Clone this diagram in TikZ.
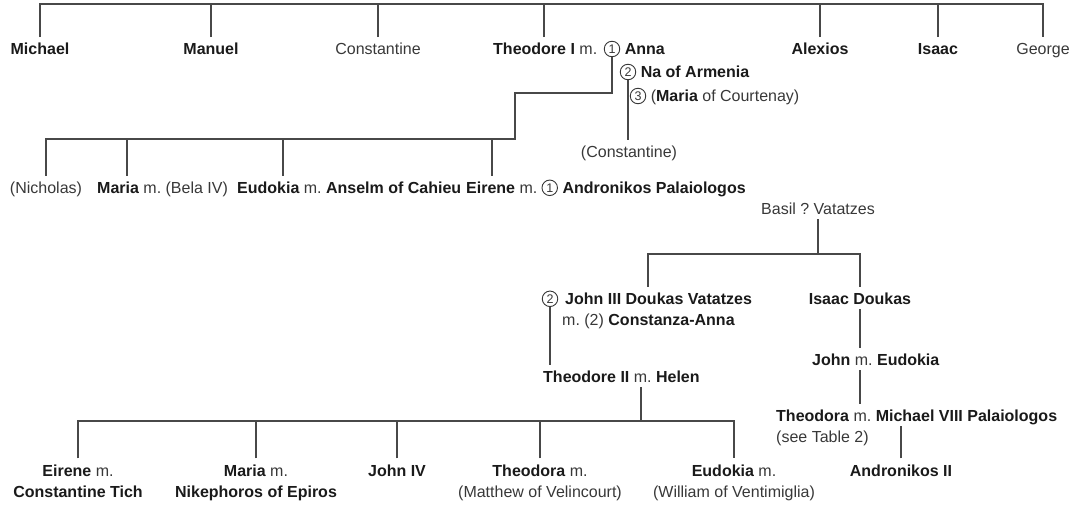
\documentclass[tikz,border=0pt]{standalone}
\usepackage{fontspec}
\setmainfont{Liberation Sans}
\usetikzlibrary{calc}
\definecolor{txt}{HTML}{383838}
\definecolor{bld}{HTML}{1A1A1A}
\definecolor{ln}{HTML}{484848}
\newcommand\bn[1]{{\bfseries\color{bld}#1}}
\frenchspacing
\begin{document}
\frenchspacing
\begin{tikzpicture}[x=1pt,y=-1pt,
  lbl/.style={inner sep=0pt, text height=17.5pt, text depth=4.5pt,
    font=\fontsize{16}{19}\selectfont\frenchspacing, text=txt},
  cnum/.style={circle, draw=txt, line width=0.9pt, minimum size=15.5pt,
    inner sep=0pt, font=\fontsize{12.5}{12.5}\selectfont, text=txt},
  conn/.style={draw=ln, line width=1.2pt}]
\useasboundingbox (0,0) rectangle (1084,506);
\coordinate (tb) at (0,4);
\coordinate (b2) at (0,139);
\coordinate (b3) at (0,254);
\coordinate (b4) at (0,421);
\coordinate (j1) at (515,93);
% top row
\node[lbl, anchor=base] (michael) at (40,54.7) {\bn{Michael}};
\node[lbl, anchor=base] (manuel) at (211,54.7) {\bn{Manuel}};
\node[lbl, anchor=base] (const1) at (378,54.7) {Constantine};
\node[lbl, anchor=base west] (theo1) at (493,54.7) {\bn{Theodore I} m.};
\node[cnum] (c1) at (612,49) {1};
\node[lbl, anchor=base west] (anna) at ($(c1.east |- theo1.base)+(4.4,0)$) {\bn{Anna}};
\node[lbl, anchor=base] (alexios) at (820,54.7) {\bn{Alexios}};
\node[lbl, anchor=base] (isaac1) at (938,54.7) {\bn{Isaac}};
\node[lbl, anchor=base] (george) at (1043,54.7) {George};
\draw[conn] (michael.north) |- (george.north |- tb) -- (george.north);
\foreach \n in {manuel,const1,alexios,isaac1}
  \draw[conn] (\n.north) -- (\n.north |- tb);
\path ($(theo1.north west)+(51,0)$) coordinate (thd1);
\draw[conn] (thd1) -- (thd1 |- tb);
% other wives
\node[cnum] (c2) at (628,72) {2};
\node[lbl, anchor=base west] (na) at ($(c2.east)+(4.4,5.7)$) {\bn{Na of Armenia}};
\node[cnum] (c3) at (638,96) {3};
\node[lbl, anchor=base west] (mariac) at ($(c3.east)+(4.4,5.7)$) {(\bn{Maria} of Courtenay)};
\node[lbl, anchor=base] (const2) at (629,157.5) {(Constantine)};
\draw[conn] (c2.south) -- (c2.south |- const2.north);
% children of Theodore I and Anna
\node[lbl, anchor=base] (nich) at (46,193.5) {(Nicholas)};
\node[lbl, anchor=base west] (maria1) at (97,193.5) {\bn{Maria} m. (Bela IV)};
\node[lbl, anchor=base west] (eudokia1) at (237,193.5) {\bn{Eudokia} m. \bn{Anselm of Cahieu}};
\node[lbl, anchor=base west] (eirene1) at (466,193.5) {\bn{Eirene} m.};
\node[cnum] (c5) at ($(eirene1.base east)+(12.2,-5.7)$) {1};
\node[lbl, anchor=base west] (andr1) at ($(c5.east)+(4.4,5.7)$) {\bn{Andronikos Palaiologos}};
\draw[conn] (c1.south) |- (j1) |- (nich.north |- b2) -- (nich.north);
\path ($(maria1.north west)+(30,0)$) coordinate (md);
\path ($(eudokia1.north west)+(46,0)$) coordinate (ed);
\path ($(eirene1.north west)+(26,0)$) coordinate (eid);
\foreach \c in {md,ed,eid}
  \draw[conn] (\c) -- (\c |- b2);
% Vatatzes
\node[lbl, anchor=base] (basil) at (818,214.5) {Basil ? Vatatzes};
\draw[conn] (basil.south) -- (basil.south |- b3);
\node[cnum] (c4) at (550,298.8) {2};
\node[lbl, anchor=base west] (john3) at (565,304.5) {\bn{John III Doukas Vatatzes}};
\node[lbl, anchor=base west] (constanza) at (562,325.5) {m. (2) \bn{Constanza-Anna}};
\node[lbl, anchor=base] (isaacd) at (860,304.5) {\bn{Isaac Doukas}};
\path ($(john3.north west)+(83,0)$) coordinate (jd);
\draw[conn] (jd) |- (isaacd.north |- b3) -- (isaacd.north);
\node[lbl, anchor=base west] (johne) at (812,365.5) {\bn{John} m. \bn{Eudokia}};
\draw[conn] (isaacd.south) -- (isaacd.south |- johne.north);
\node[lbl, anchor=base west] (theodora1) at (776,421.5) {\bn{Theodora} m. \bn{Michael VIII Palaiologos}};
\node[lbl, anchor=base west] (seetable) at (776,442.5) {(see Table 2)};
\draw[conn] (isaacd.south |- johne.south) -- (isaacd.south |- theodora1.north);
\node[lbl, anchor=base] (andr2) at (901,476) {\bn{Andronikos II}};
\draw[conn] (andr2.north) -- (andr2.north |- theodora1.south);
% Theodore II
\node[lbl, anchor=base west] (theo2) at (543,382.5) {\bn{Theodore II} m. \bn{Helen}};
\draw[conn] (c4.south) -- (c4.south |- theo2.north);
\path ($(theo2.south west)+(98,0)$) coordinate (t2d);
\draw[conn] (t2d) -- (t2d |- b4);
% bottom row
\node[lbl, anchor=base] (eirene2) at (78,476) {\bn{Eirene} m.};
\node[lbl, anchor=base] (eirene2b) at (78,497.5) {\bn{Constantine Tich}};
\node[lbl, anchor=base] (maria2) at (256,476) {\bn{Maria} m.};
\node[lbl, anchor=base] (maria2b) at (256,497.5) {\bn{Nikephoros of Epiros}};
\node[lbl, anchor=base] (john4) at (397,476) {\bn{John IV}};
\node[lbl, anchor=base] (theodora2) at (540,476) {\bn{Theodora} m.};
\node[lbl, anchor=base] (theodora2b) at (540,497.5) {(Matthew of Velincourt)};
\node[lbl, anchor=base] (eudokia2) at (734,476) {\bn{Eudokia} m.};
\node[lbl, anchor=base] (eudokia2b) at (734,497.5) {(William of Ventimiglia)};
\draw[conn] (eirene2.north) |- (eudokia2.north |- b4) -- (eudokia2.north);
\foreach \n in {maria2,john4,theodora2}
  \draw[conn] (\n.north) -- (\n.north |- b4);
\end{tikzpicture}
\end{document}
